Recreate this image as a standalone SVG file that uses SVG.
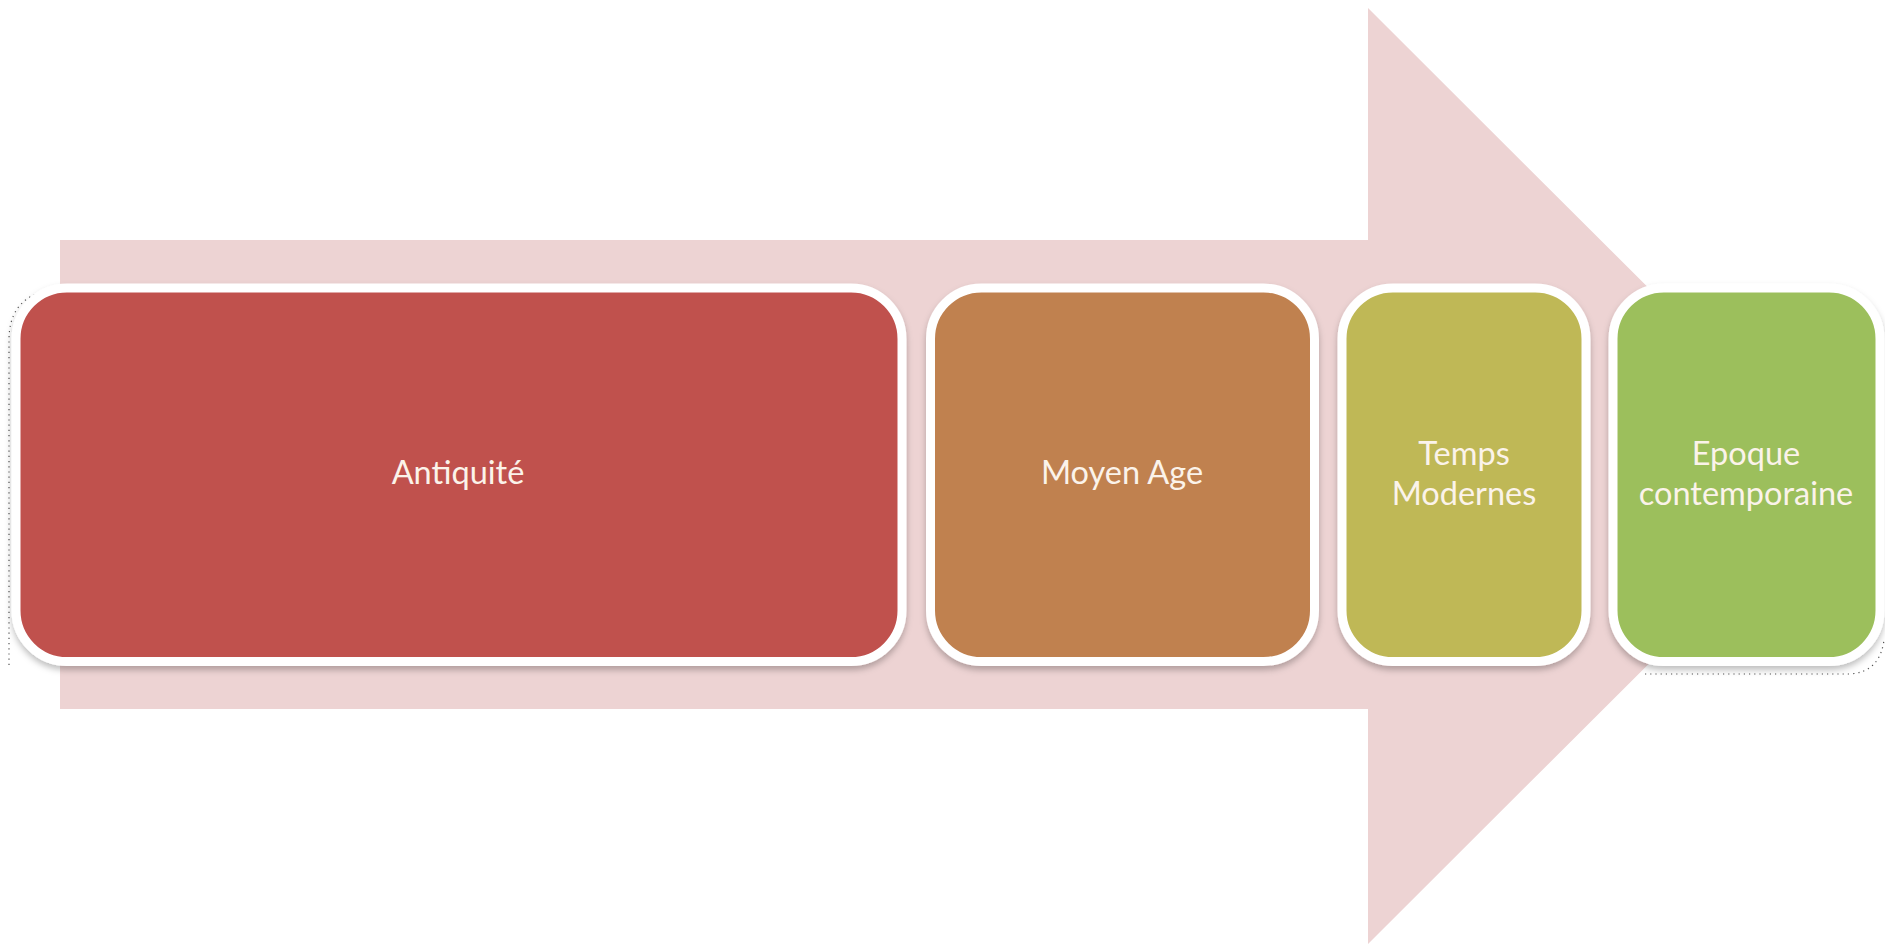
<svg xmlns="http://www.w3.org/2000/svg" width="1885" height="945" viewBox="0 0 1885 945">
  <defs>
    <filter id="sh" x="-10%" y="-10%" width="120%" height="125%">
      <feDropShadow dx="0" dy="4" stdDeviation="3" flood-color="#000" flood-opacity="0.25"/>
    </filter>
    <style>
      .box { stroke: #ffffff; stroke-width: 9; filter: url(#sh); }
      .lbl { font-family: Lato, "Open Sans", "Liberation Sans", sans-serif; font-size: 32.5px; fill: #fbf3ea; text-anchor: middle; }
      .dots { fill: none; stroke: #555; stroke-width: 1.2; stroke-dasharray: 1.2 4; }
    </style>
  </defs>
  <rect width="1885" height="945" fill="#ffffff"/>
  <g id="arrow">
    <polygon points="60,240 1368,240 1368,8 1837,476 1368,944 1368,709 60,709" fill="#edd3d3"/>
  </g>
  <g id="connectors"/>
  <g id="artifacts">
    <path class="dots" d="M9,665 L9,340 Q9,300 45,291"/>
    <path class="dots" d="M1645,674 L1850,674 Q1880,672 1884,640"/>
  </g>
  <g id="antiquite">
    <rect class="box" x="16" y="288" width="886" height="373.5" rx="51" fill="#c0514e"/>
    <text class="lbl" x="458" y="484">Antiquité</text>
  </g>
  <g id="moyen-age">
    <rect class="box" x="930.5" y="288" width="384" height="373.5" rx="51" fill="#c08150"/>
    <text class="lbl" x="1122" y="484">Moyen Age</text>
  </g>
  <g id="temps-modernes">
    <rect class="box" x="1342" y="288" width="244" height="373.5" rx="51" fill="#bfb856"/>
    <text class="lbl" x="1464" y="465">Temps</text>
    <text class="lbl" x="1464" y="505">Modernes</text>
  </g>
  <g id="epoque-contemporaine">
    <rect class="box" x="1613" y="288" width="267" height="373.5" rx="51" fill="#9cbf5c"/>
    <text class="lbl" x="1746" y="465">Epoque</text>
    <text class="lbl" x="1746" y="505">contemporaine</text>
  </g>
</svg>
